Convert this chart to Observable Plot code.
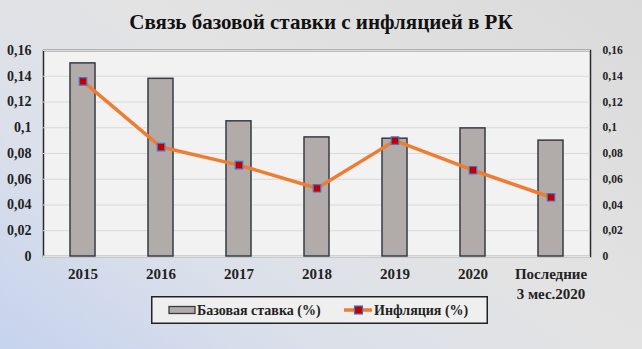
<!DOCTYPE html>
<html>
<head>
<meta charset="utf-8">
<script src="https://cdn.jsdelivr.net/npm/d3@7"></script>
<script src="https://cdn.jsdelivr.net/npm/@observablehq/plot@0.6"></script>
<style>
  html, body { margin: 0; padding: 0; }
  #wrap {
    position: relative; width: 642px; height: 349px; overflow: hidden;
    background: linear-gradient(35deg, #c6d3ee 0%, #dbe0ea 28%, #e3e3e3 55%, #dadada 100%);
    font-family: "Liberation Serif", "DejaVu Serif", serif;
  }
  #title {
    height: 40px; line-height: 44px; text-align: center; font-weight: bold; font-size: 21px; color: #111;
    font-family: "Liberation Serif", "DejaVu Serif", serif;
  }
  #legend { position: absolute; left: 151px; top: 296px; }
  svg text { font-family: "Liberation Serif", "DejaVu Serif", serif; }
</style>
</head>
<body>
<div id="wrap">
  <div id="title">Связь базовой ставки с инфляцией в РК</div>
  <div id="chart"></div>
  <div id="legend"></div>
</div>
<script>
const years = ["2015", "2016", "2017", "2018", "2019", "2020", "Последние\n3 мес.2020"];
const baseRate = [0.15, 0.138, 0.105, 0.0925, 0.0915, 0.0995, 0.09];
const inflation = [0.136, 0.085, 0.071, 0.053, 0.09, 0.067, 0.046];
const yTicks = [0, 0.02, 0.04, 0.06, 0.08, 0.1, 0.12, 0.14, 0.16];
const seriesNames = ["Базовая ставка (%)", "Инфляция (%)"];

const data = years.map((y, i) => ({year: y, base: baseRate[i], inf: inflation[i]}));
const fmt = d => String(d).replace(".", ",");
const FONT = "'Liberation Serif', 'DejaVu Serif', serif";

const chart = Plot.plot({
  width: 642, height: 262,
  marginTop: 10, marginBottom: 46, marginLeft: 43, marginRight: 52,
  style: {background: "transparent", fontFamily: FONT, color: "#222"},
  x: {domain: years, paddingInner: 0.68, paddingOuter: 0.34, label: null},
  y: {domain: [0, 0.16], label: null},
  marks: [
    Plot.frame({fill: "#f2f2f2", stroke: "#2b2b2b", strokeWidth: 1.5}),
    Plot.gridY(yTicks, {stroke: "#d9d9d9", strokeOpacity: 1, strokeWidth: 1}),
    Plot.ruleY([0], {stroke: "#e2e2e2", strokeWidth: 2}),
    Plot.barY(data, {x: "year", y: "base", fill: "#b1acaa", stroke: "#363b44", strokeWidth: 1.5}),
    Plot.line(data, {x: "year", y: "inf", stroke: "#ef7d31", strokeWidth: 3.5}),
    Plot.dot(data, {x: "year", y: "inf", symbol: "square", r: 4.2, fill: "#c00000", stroke: "#4a72c8", strokeWidth: 1.2}),
    Plot.axisY(yTicks, {anchor: "left", tickSize: 0, tickPadding: 12, tickFormat: fmt, fontSize: 14, fontWeight: "bold", label: null}),
    Plot.axisY(yTicks, {anchor: "right", tickSize: 0, tickPadding: 12, tickFormat: fmt, fontSize: 11.5, fontWeight: "bold", label: null}),
    Plot.axisX({tickSize: 0, tickPadding: 9, fontSize: 15, fontWeight: "bold", lineHeight: 1.3, label: null})
  ]
});
document.getElementById("chart").appendChild(chart);

// legend
const lg = d3.select("#legend").append("svg").attr("width", 337).attr("height", 28);
lg.append("rect").attr("x", 0.75).attr("y", 0.75).attr("width", 335.5).attr("height", 26.5)
  .attr("fill", "#efefef").attr("stroke", "#222").attr("stroke-width", 1.5);
lg.append("rect").attr("x", 18).attr("y", 10.5).attr("width", 26).attr("height", 7)
  .attr("fill", "#b1acaa").attr("stroke", "#363b44").attr("stroke-width", 1.3);
lg.append("text").attr("x", 46).attr("y", 19).attr("font-size", 14).attr("font-weight", "bold")
  .attr("fill", "#222").text(seriesNames[0]);
lg.append("line").attr("x1", 193).attr("x2", 221).attr("y1", 14).attr("y2", 14)
  .attr("stroke", "#ef7d31").attr("stroke-width", 3.5);
lg.append("rect").attr("x", 203.5).attr("y", 10).attr("width", 8).attr("height", 8)
  .attr("fill", "#c00000").attr("stroke", "#4a72c8").attr("stroke-width", 1.2);
lg.append("text").attr("x", 223).attr("y", 19).attr("font-size", 14).attr("font-weight", "bold")
  .attr("fill", "#222").text(seriesNames[1]);
</script>
</body>
</html>
